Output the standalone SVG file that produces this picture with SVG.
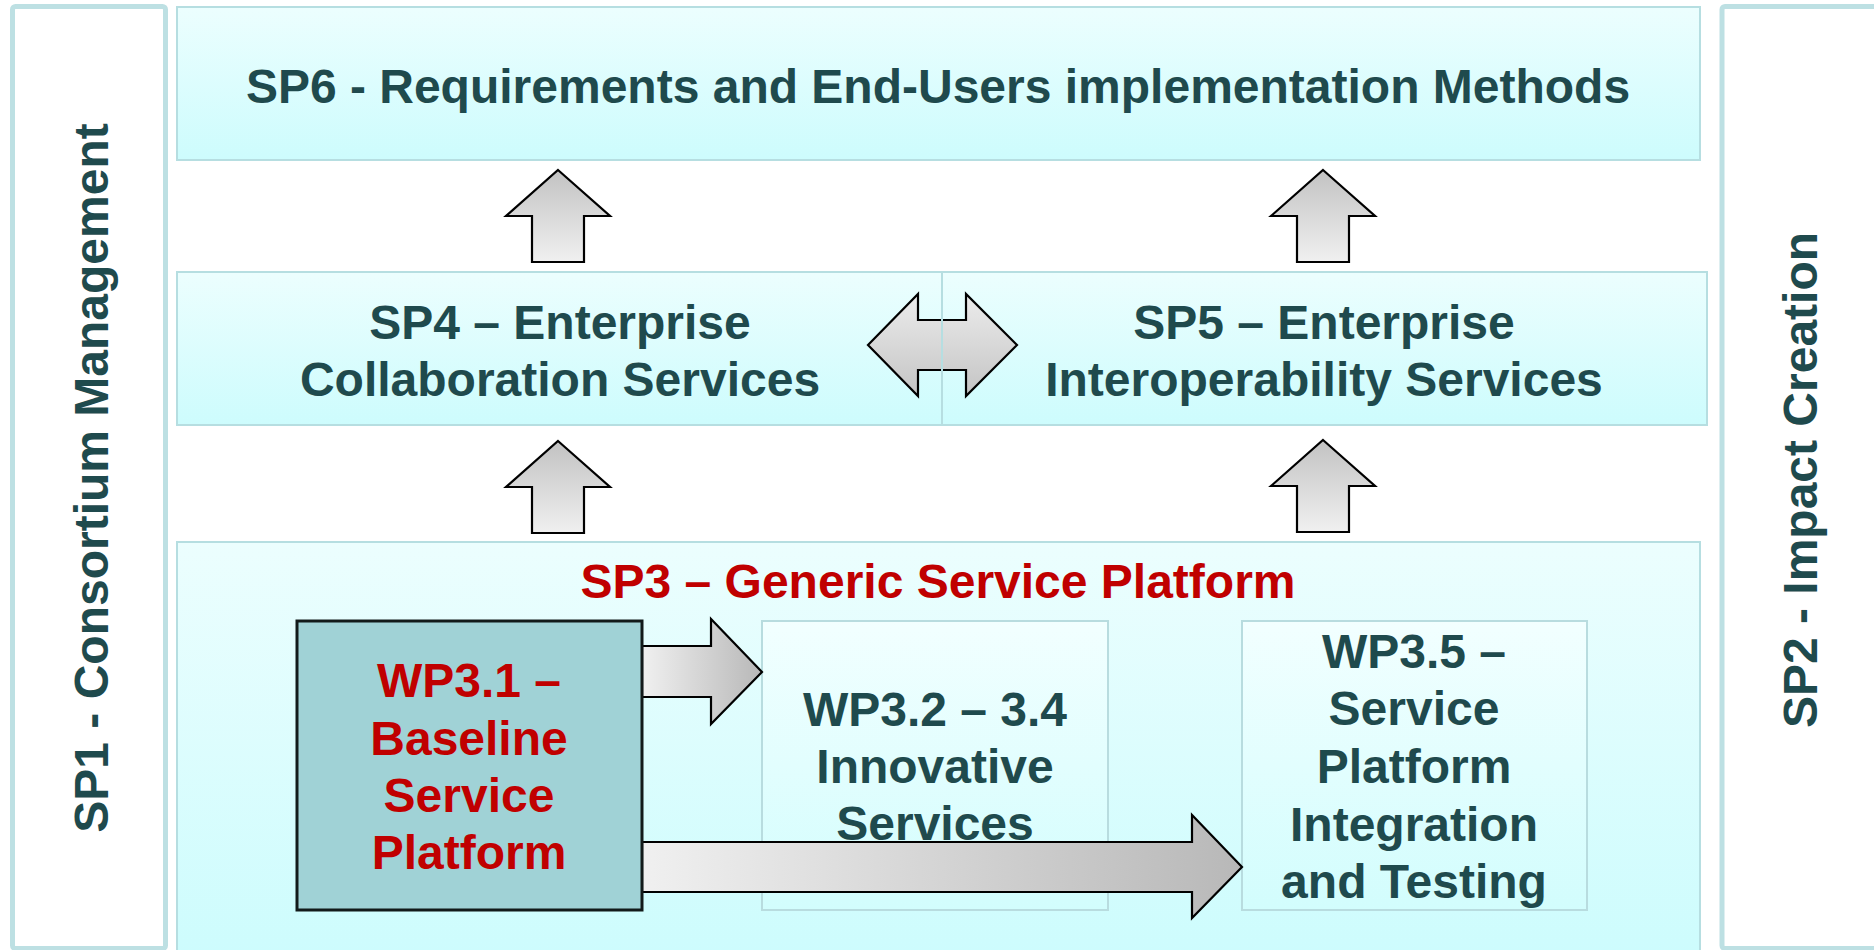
<svg xmlns="http://www.w3.org/2000/svg" width="1874" height="950" viewBox="0 0 1874 950">
  <defs>
    <linearGradient id="gCyan" x1="0" y1="0" x2="0" y2="1">
      <stop offset="0" stop-color="#ecfefe"/>
      <stop offset="1" stop-color="#cdfcfd"/>
    </linearGradient>
    <linearGradient id="gCyanSoft" x1="0" y1="0" x2="0" y2="1">
      <stop offset="0" stop-color="#f2ffff"/>
      <stop offset="1" stop-color="#d2fdfd"/>
    </linearGradient>
    <linearGradient id="gUp" x1="0" y1="0" x2="0" y2="1">
      <stop offset="0" stop-color="#c2c2c2"/>
      <stop offset="1" stop-color="#f0f0f0"/>
    </linearGradient>
    <linearGradient id="gRight" x1="0" y1="0" x2="1" y2="0">
      <stop offset="0" stop-color="#f0f0f0"/>
      <stop offset="1" stop-color="#b8b8b8"/>
    </linearGradient>
    <linearGradient id="gBoth" x1="0" y1="0" x2="0" y2="1">
      <stop offset="0" stop-color="#ececec"/>
      <stop offset="1" stop-color="#c4c4c4"/>
    </linearGradient>
  </defs>
  <style>
    text { font-family: "Liberation Sans", Arial, sans-serif; font-weight: bold; font-size: 48px; fill: #1f4a4d; text-anchor: middle; }
    .red { fill: #c00000; }
    .side { fill: #ffffff; stroke: #bde0e3; stroke-width: 5; }
    .band { fill: url(#gCyan); stroke: #b6dee1; stroke-width: 2; }
    .wp { fill: url(#gCyanSoft); stroke: #b8dcdf; stroke-width: 2; }
    .base { fill: #a0d2d6; stroke: #121a1a; stroke-width: 3; }
    .divider { stroke: #b6dee1; stroke-width: 2; }
    .arrow { stroke: #000000; stroke-width: 2.2; stroke-linejoin: miter; }
    .up { fill: url(#gUp); }
    .right { fill: url(#gRight); }
    .both { fill: url(#gBoth); }
  </style>

  <rect width="1874" height="950" fill="#ffffff"/>

  <!-- side columns -->
  <g id="sp1">
    <rect class="side" x="12.5" y="6.5" width="153" height="942" rx="3"/>
    <text transform="rotate(-90 108 478)" x="108" y="478">SP1 - Consortium Management</text>
  </g>
  <g id="sp2">
    <rect class="side" x="1722" y="6.5" width="156" height="942" rx="3"/>
    <text transform="rotate(-90 1817 480)" x="1817" y="480">SP2 - Impact Creation</text>
  </g>

  <!-- horizontal bands -->
  <g id="sp6">
    <rect class="band" x="177" y="7" width="1523" height="153"/>
    <text x="938" y="103">SP6 - Requirements and End-Users implementation Methods</text>
  </g>
  <g id="sp4">
    <rect class="band" x="177" y="272" width="765" height="153"/>
    <text x="560" y="339">SP4 – Enterprise</text>
    <text x="560" y="396">Collaboration Services</text>
  </g>
  <g id="sp5">
    <rect class="band" x="942" y="272" width="765" height="153"/>
    <text x="1324" y="339">SP5 – Enterprise</text>
    <text x="1324" y="396">Interoperability Services</text>
  </g>
  <g id="sp3">
    <rect class="band" x="177" y="542" width="1523" height="412"/>
    <text class="red" x="938" y="598">SP3 – Generic Service Platform</text>
  </g>

  <!-- work packages inside SP3 -->
  <g id="wp32">
    <rect class="wp" x="762" y="621" width="346" height="289"/>
    <text x="935" y="726">WP3.2 – 3.4</text>
    <text x="935" y="783">Innovative</text>
    <text x="935" y="840">Services</text>
  </g>
  <g id="wp35">
    <rect class="wp" x="1242" y="621" width="345" height="289"/>
    <text x="1414" y="668">WP3.5 –</text>
    <text x="1414" y="725">Service</text>
    <text x="1414" y="783">Platform</text>
    <text x="1414" y="841">Integration</text>
    <text x="1414" y="898">and Testing</text>
  </g>

  <!-- connectors -->
  <g id="connectors">
    <path class="arrow up" d="M558,170 L610,216 L584,216 L584,262 L532,262 L532,216 L506,216 Z"/>
    <path class="arrow up" d="M1323,170 L1375,216 L1349,216 L1349,262 L1297,262 L1297,216 L1271,216 Z"/>
    <path class="arrow up" d="M558,441 L610,487 L584,487 L584,533 L532,533 L532,487 L506,487 Z"/>
    <path class="arrow up" d="M1323,440 L1375,486 L1349,486 L1349,532 L1297,532 L1297,486 L1271,486 Z"/>
    <path class="arrow both" d="M868,345 L918,294 L918,320 L966,320 L966,294 L1017,345 L966,396 L966,370 L918,370 L918,396 Z"/>
    <path class="arrow right" d="M642,646 L711,646 L711,619 L762,672 L711,724 L711,697 L642,697 Z"/>
    <path class="arrow right" d="M642,842 L1192,842 L1192,815 L1242,867 L1192,918 L1192,892 L642,892 Z"/>
  </g>

  <!-- shared edge of SP4 and SP5, visible across the double arrow -->
  <g id="sp45-edge">
    <line class="divider" x1="942" y1="273" x2="942" y2="424"/>
  </g>

  <g id="wp31">
    <rect class="base" x="297" y="621" width="345" height="289"/>
    <text class="red" x="469" y="697">WP3.1 –</text>
    <text class="red" x="469" y="755">Baseline</text>
    <text class="red" x="469" y="812">Service</text>
    <text class="red" x="469" y="869">Platform</text>
  </g>
</svg>
